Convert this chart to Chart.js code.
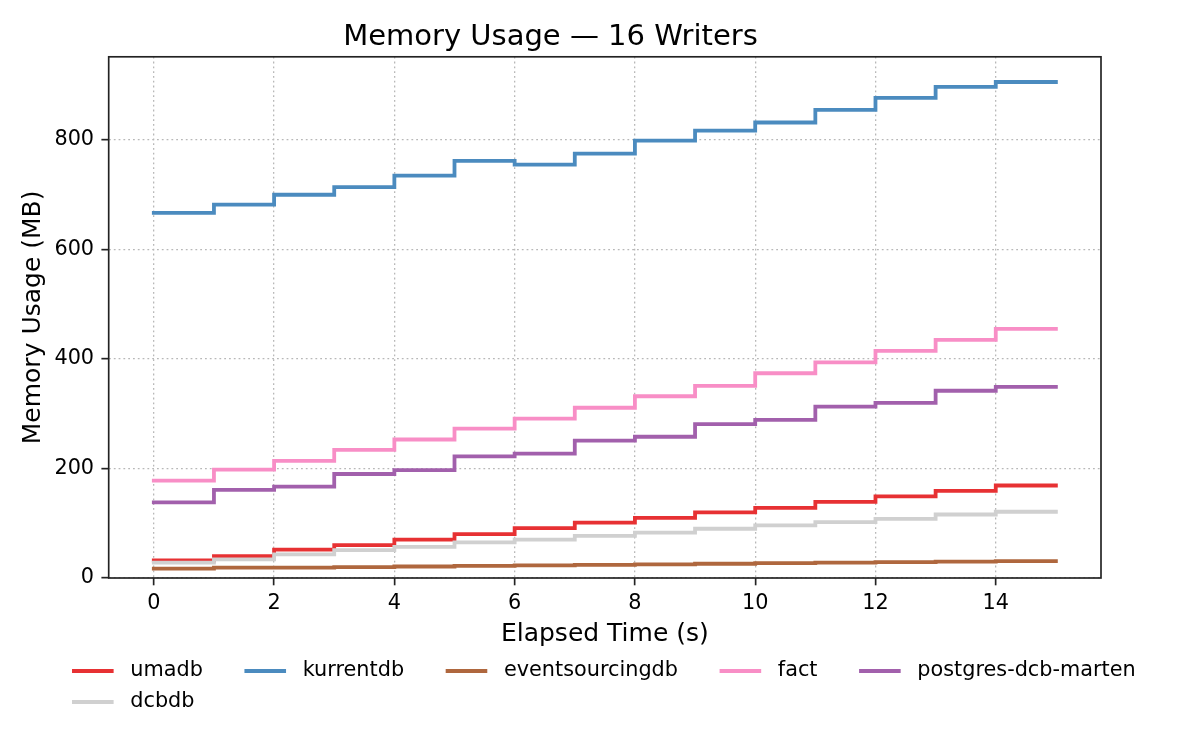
<!DOCTYPE html>
<html>
<head>
<meta charset="utf-8">
<title>Memory Usage — 16 Writers</title>
<script src="https://cdn.jsdelivr.net/npm/chart.js@4/dist/chart.umd.min.js"></script>
<style>
  html, body { margin: 0; padding: 0; background: #fff; }
  #wrap { width: 1200px; height: 750px; }
</style>
</head>
<body>
<div id="wrap"><canvas id="memory" width="1200" height="750"></canvas></div>
<script>
// elapsed seconds, one sample per second
const elapsed = [0, 1, 2, 3, 4, 5, 6, 7, 8, 9, 10, 11, 12, 13, 14, 15];

// memory usage in MB per backend
const umadb           = [32, 40, 52, 60, 70, 80, 91, 101, 110, 120, 128, 139, 149, 159, 169, 169];
const dcbdb           = [28, 34, 43, 51, 57, 65, 70, 77, 83, 90, 96, 102, 108, 116, 121, 121];
const kurrentdb       = [667, 682, 700, 714, 735, 762, 755, 775, 799, 817, 832, 855, 877, 897, 906, 906];
const eventsourcingdb = [17, 19, 19, 20, 21, 22, 23, 24, 25, 26, 27, 28, 29, 30, 31, 31];
const fact            = [178, 198, 214, 234, 253, 273, 291, 311, 332, 351, 374, 394, 415, 435, 455, 455];
const postgresMarten  = [138, 161, 167, 190, 197, 222, 227, 251, 258, 281, 289, 313, 320, 342, 349, 349];

const seriesNames  = ["umadb", "dcbdb", "kurrentdb", "eventsourcingdb", "fact", "postgres-dcb-marten"];
const seriesValues = [umadb, dcbdb, kurrentdb, eventsourcingdb, fact, postgresMarten];
const seriesColors = ["#e73133", "#d0d0d0", "#4b8bbf", "#af673e", "#f88ec6", "#a260ac"];

const FONT = '"DejaVu Sans", "Liberation Sans", sans-serif';
const LINE_W = 3.8;

function toPoints(values) {
    return elapsed.map((t, i) => ({x: t, y: values[i]}));
}

// matplotlib draws later series on top, chart.js does the reverse unless told
const datasets = seriesNames.map((name, i) => ({
    label: name,
    data: toPoints(seriesValues[i]),
    borderColor: seriesColors[i],
    backgroundColor: seriesColors[i],
    borderWidth: LINE_W,
    borderCapStyle: "square",
    borderJoinStyle: "miter",
    pointRadius: 0,
    stepped: true,
    fill: false,
    order: seriesNames.length - i
}));

// full box round the plot area
const frame = {
    id: "frame",
    afterDatasetsDraw(chart) {
        const {ctx, chartArea: a} = chart;
        ctx.save();
        ctx.strokeStyle = "#222";
        ctx.lineWidth = 1.67;
        ctx.strokeRect(a.left, a.top, a.right - a.left, a.bottom - a.top);
        ctx.restore();
    }
};

// legend laid out in columns, filled column first like matplotlib's ncol
const gridLegend = {
    id: "gridLegend",
    afterDraw(chart, args, opts) {
        const ctx = chart.ctx;
        const fs = opts.fontSize;
        ctx.save();
        ctx.font = fs + "px " + FONT;
        const items = chart.data.datasets.map(ds => ({
            label: ds.label,
            color: ds.borderColor,
            width: ctx.measureText(ds.label).width
        }));
        const ncol = opts.ncol;
        const base = Math.floor(items.length / ncol), extra = items.length % ncol;
        const cols = [];
        let k = 0;
        for (let c = 0; c < ncol; c++) {
            const n = base + (c < extra ? 1 : 0);
            if (n) cols.push(items.slice(k, k + n));
            k += n;
        }
        const handle = 2 * fs, pad = 0.8 * fs, gap = 2 * fs;
        const widths = cols.map(col => handle + pad + Math.max(...col.map(it => it.width)));
        const total = widths.reduce((a, b) => a + b, 0) + gap * (cols.length - 1);
        const area = chart.chartArea;
        let x = (area.left + area.right) / 2 - total / 2 - 1;
        const y0 = chart.scales.x.bottom + opts.offset;
        ctx.textBaseline = "middle";
        ctx.textAlign = "left";
        cols.forEach((col, c) => {
            col.forEach((it, r) => {
                const y = y0 + r * opts.rowHeight;
                ctx.strokeStyle = it.color;
                ctx.lineWidth = LINE_W;
                ctx.lineCap = "butt";
                ctx.beginPath();
                ctx.moveTo(x, y);
                ctx.lineTo(x + handle, y);
                ctx.stroke();
                ctx.fillStyle = "#000";
                ctx.fillText(it.label, x + handle + pad, y);
            });
            x += widths[c] + gap;
        });
        ctx.restore();
    }
};

const gridStyle = {
    color: "#b8b8b8",
    lineWidth: 1.3,
    drawTicks: true,
    tickLength: 7.3,
    tickColor: "#222",
    tickWidth: 1.67,
    tickBorderDash: []
};
// in v4 the dash of the grid lines lives on the border options
const borderStyle = {display: false, dash: [1.8, 3]};

const ctx = document.getElementById("memory");
const chart = new Chart(ctx, {
    type: "line",
    data: {datasets: datasets},
    plugins: [frame, gridLegend],
    options: {
        responsive: false,
        animation: false,
        devicePixelRatio: 1,
        layout: {padding: {left: 0, right: 99, top: 0, bottom: 103}},
        scales: {
            x: {
                type: "linear",
                min: -0.75,
                max: 15.75,
                grid: gridStyle,
                border: borderStyle,
                ticks: {
                    stepSize: 2,
                    includeBounds: false,
                    padding: 6,
                    color: "#000",
                    font: {family: FONT, size: 20.8}
                },
                title: {
                    display: true,
                    text: "Elapsed Time (s)",
                    color: "#000",
                    padding: {top: 0, bottom: -2},
                    font: {family: FONT, size: 25}
                },
                afterFit(scale) { scale.height = 69; }
            },
            y: {
                type: "linear",
                min: 0,
                max: 952,
                grid: gridStyle,
                border: borderStyle,
                ticks: {
                    stepSize: 200,
                    includeBounds: false,
                    padding: 7.3,
                    color: "#000",
                    font: {family: FONT, size: 20.8}
                },
                title: {
                    display: true,
                    text: "Memory Usage (MB)",
                    color: "#000",
                    padding: {top: 18, bottom: 0},
                    font: {family: FONT, size: 25}
                },
                afterFit(scale) { scale.width = 108.7; }
            }
        },
        plugins: {
            legend: {display: false},
            tooltip: {enabled: false},
            title: {
                display: true,
                text: "Memory Usage — 16 Writers",
                color: "#000",
                padding: {top: 20, bottom: 2},
                font: {family: FONT, size: 29, weight: "normal"}
            },
            gridLegend: {ncol: 5, fontSize: 20.8, offset: 24, rowHeight: 31}
        }
    }
});
</script>
</body>
</html>
